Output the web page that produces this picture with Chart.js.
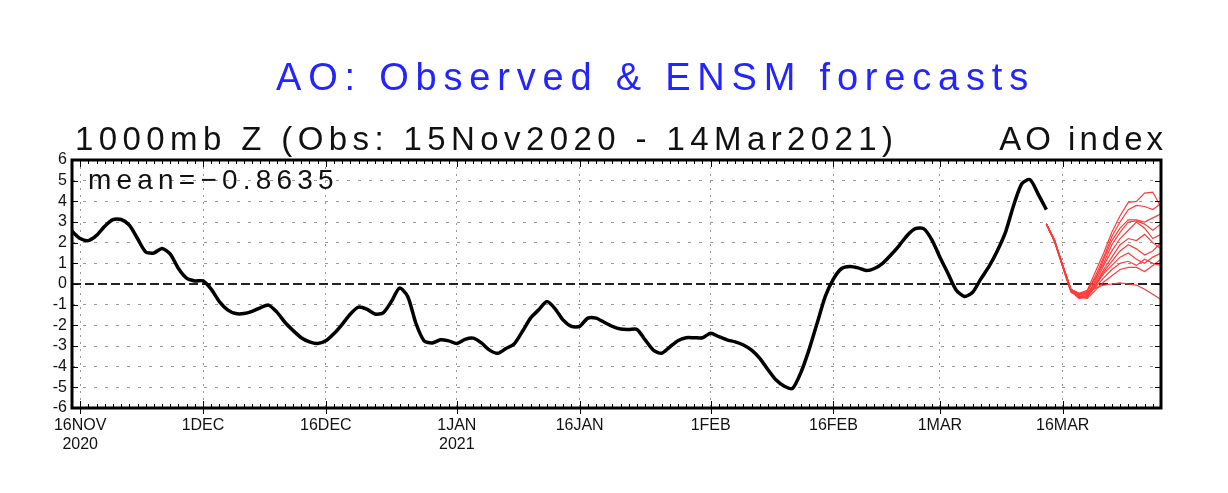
<!DOCTYPE html>
<html>
<head>
<meta charset="utf-8">
<script src="https://cdn.jsdelivr.net/npm/chart.js@4.4.1/dist/chart.umd.min.js"></script>
<style>
  body { margin: 0; background: #fff; }
  #wrap { position: relative; width: 1228px; height: 493px; font-family: "Liberation Sans", Arial, sans-serif; }
  #wrap canvas { position: absolute; left: 0; top: 0; }
  .txt { position: absolute; line-height: 1; white-space: nowrap; }
  #title { left: 276px; top: 58px; font-size: 38px; letter-spacing: 6.8px; color: #2424ff; }
  #sub { left: 75px; top: 122px; font-size: 33px; letter-spacing: 5.4px; color: #111; }
  #idx { right: 61px; top: 122px; font-size: 33px; letter-spacing: 4px; color: #111; }
  #mean { left: 88px; top: 166px; font-size: 28px; letter-spacing: 5.2px; color: #111; }
</style>
</head>
<body>
<div id="wrap">
  <canvas id="c" width="1228" height="493"></canvas>
  <div class="txt" id="title">AO: Observed &amp; ENSM forecasts</div>
  <div class="txt" id="sub">1000mb Z (Obs: 15Nov2020 - 14Mar2021)</div>
  <div class="txt" id="idx">AO index</div>
  <div class="txt" id="mean">mean=−0.8635</div>
</div>
<script>
// day 0 = 15 Nov 2020, axis runs to 28 Mar 2021
const dayMin = 0
const dayMax = 133

// x tick positions (days) and their labels
const tickDays = [1, 16, 31, 47, 62, 78, 93, 106, 121]
const tickLabels = [['16NOV', '2020'], '1DEC', '16DEC', ['1JAN', '2021'], '16JAN', '1FEB', '16FEB', '1MAR', '16MAR']

// y ticks
const yTicks = [-6, -5, -4, -3, -2, -1, 0, 1, 2, 3, 4, 5, 6]

// observed AO index, one value per day from 15 Nov 2020 to 14 Mar 2021
const observed = [
  2.55, 2.2, 2.1, 2.35, 2.8, 3.12, 3.12, 2.85, 2.2, 1.55,
  1.5, 1.72, 1.45, 0.75, 0.28, 0.15, 0.15, -0.25, -0.85, -1.25,
  -1.43, -1.43, -1.32, -1.15, -1.02, -1.35, -1.85, -2.25, -2.6, -2.8,
  -2.88, -2.75, -2.4, -1.95, -1.45, -1.12, -1.22, -1.45, -1.4, -0.85,
  -0.2, -0.6, -1.9, -2.75, -2.85, -2.7, -2.75, -2.88, -2.68, -2.62,
  -2.85, -3.2, -3.35, -3.12, -2.9, -2.3, -1.65, -1.25, -0.85, -1.2,
  -1.75, -2.05, -2.05, -1.65, -1.65, -1.85, -2.05, -2.18, -2.2, -2.2,
  -2.7, -3.2, -3.35, -3.05, -2.75, -2.6, -2.6, -2.6, -2.38, -2.55,
  -2.7, -2.8, -2.95, -3.2, -3.6, -4.15, -4.65, -4.95, -5.05, -4.3,
  -3.2, -1.9, -0.6, 0.25, 0.75, 0.85, 0.78, 0.65, 0.75, 1.0,
  1.4, 1.85, 2.35, 2.68, 2.68, 2.15, 1.3, 0.5, -0.3, -0.6,
  -0.4, 0.25, 0.85, 1.6, 2.5, 3.8, 4.85, 5.05, 4.35, 3.6
]

// ensemble forecast members, days 119..133
const fcstStartDay = 119
const member1 = [2.9, 2.1, 0.9, -0.25, -0.45, -0.3, 0.6, 1.5, 2.5, 3.3, 3.95, 4.0, 4.4, 4.45, 3.7]
const member2 = [2.9, 2.1, 0.9, -0.3, -0.55, -0.4, 0.4, 1.3, 2.3, 3.0, 3.6, 3.8, 3.75, 3.6, 3.9]
const member3 = [2.9, 2.05, 0.85, -0.35, -0.65, -0.55, 0.2, 1.2, 2.1, 2.7, 3.1, 3.1, 3.0, 3.2, 3.4]
const member4 = [2.9, 2.1, 0.9, -0.25, -0.5, -0.35, 0.3, 1.0, 1.9, 2.5, 3.0, 3.05, 2.9, 2.6, 2.9]
const member5 = [2.9, 2.05, 0.85, -0.3, -0.6, -0.5, 0.1, 0.9, 1.6, 2.2, 2.6, 3.0, 2.7, 2.2, 2.4]
const member6 = [2.9, 2.1, 0.85, -0.35, -0.7, -0.6, 0.0, 0.7, 1.3, 1.9, 2.2, 2.1, 2.4, 2.0, 1.7]
const member7 = [2.9, 2.05, 0.8, -0.4, -0.6, -0.65, -0.1, 0.6, 1.1, 1.6, 1.9, 1.7, 1.4, 1.6, 2.0]
const member8 = [2.9, 2.1, 0.9, -0.3, -0.5, -0.45, -0.05, 0.5, 0.9, 1.3, 1.5, 1.2, 1.0, 1.3, 1.5]
const member9 = [2.9, 2.1, 0.9, -0.3, -0.45, -0.5, -0.15, 0.3, 0.7, 1.0, 1.1, 0.9, 1.2, 1.0, 0.9]
const member10 = [2.9, 2.05, 0.85, -0.35, -0.65, -0.7, -0.3, 0.1, 0.4, 0.7, 0.8, 0.8, 0.6, 0.9, 1.2]
const member11 = [2.9, 2.1, 0.9, -0.25, -0.5, -0.4, -0.2, -0.05, 0.0, 0.05, 0.0, -0.05, -0.25, -0.5, -0.75]
const members = [member1, member2, member3, member4, member5, member6, member7, member8, member9, member10, member11]

const ctx = document.getElementById('c').getContext('2d')

// frame, tick marks and dashed zero line (GrADS style)
const framePlugin = {
  id: 'frame',
  beforeDatasetsDraw(chart) {
    const { ctx, chartArea: a, scales: { y } } = chart
    const y0 = y.getPixelForValue(0)
    ctx.save()
    ctx.strokeStyle = '#222'
    ctx.lineWidth = 2
    ctx.setLineDash([9, 4])
    ctx.beginPath()
    ctx.moveTo(a.left, y0)
    ctx.lineTo(a.right, y0)
    ctx.stroke()
    ctx.restore()
  },
  afterDraw(chart) {
    const { ctx, chartArea: a, scales: { x, y } } = chart
    ctx.save()
    ctx.strokeStyle = '#000'
    ctx.lineWidth = 1
    ctx.beginPath()
    for (let d = dayMin; d <= dayMax; d++) {
      const px = Math.round(x.getPixelForValue(d)) + 0.5
      ctx.moveTo(px, a.bottom)
      ctx.lineTo(px, a.bottom - 4)
      ctx.moveTo(px, a.top)
      ctx.lineTo(px, a.top + 4)
    }
    tickDays.forEach(d => {
      const px = Math.round(x.getPixelForValue(d)) + 0.5
      ctx.moveTo(px, a.bottom + 6)
      ctx.lineTo(px, a.bottom - 7)
      ctx.moveTo(px, a.top)
      ctx.lineTo(px, a.top + 7)
    })
    yTicks.forEach(v => {
      const py = Math.round(y.getPixelForValue(v)) + 0.5
      ctx.moveTo(a.left, py)
      ctx.lineTo(a.left + 6, py)
      ctx.moveTo(a.right, py)
      ctx.lineTo(a.right - 6, py)
    })
    ctx.stroke()
    ctx.lineWidth = 3
    ctx.strokeRect(a.left, a.top, a.right - a.left, a.bottom - a.top)
    ctx.restore()
  }
}

const datasets = members.map(m => ({
  data: m.map((v, i) => ({ x: fcstStartDay + i, y: v })),
  borderColor: '#ff3b3b',
  borderWidth: 1.2,
  pointRadius: 0,
  tension: 0
}))

datasets.push({
  data: observed.map((v, i) => ({ x: i, y: v })),
  borderColor: '#000',
  borderWidth: 3.5,
  pointRadius: 0,
  tension: 0.25
})

new Chart(ctx, {
  type: 'line',
  data: { datasets },
  plugins: [framePlugin],
  options: {
    responsive: false,
    animation: false,
    layout: { padding: { left: 0, right: 67, top: 160, bottom: 0 } },
    plugins: {
      legend: { display: false },
      tooltip: { enabled: false }
    },
    scales: {
      x: {
        type: 'linear',
        min: dayMin,
        max: dayMax,
        afterBuildTicks: s => { s.ticks = tickDays.map(v => ({ value: v })) },
        afterFit: s => { s.height = 85 },
        ticks: {
          color: '#111',
          font: { family: '"Liberation Sans", Arial, sans-serif', size: 16 },
          padding: 8,
          maxRotation: 0,
          autoSkip: false,
          callback: v => tickLabels[tickDays.indexOf(v)]
        },
        grid: { color: '#999', lineWidth: 1, drawTicks: false },
        border: { display: false, dash: [2, 5] }
      },
      y: {
        min: -6,
        max: 6,
        afterBuildTicks: s => { s.ticks = yTicks.map(v => ({ value: v })) },
        afterFit: s => { s.width = 72 },
        ticks: {
          autoSkip: false,
          color: '#111',
          font: { family: '"Liberation Sans", Arial, sans-serif', size: 16, lineHeight: 1 },
          padding: 5,
          callback: v => String(v)
        },
        grid: {
          color: c => c.tick && c.tick.value === 0 ? 'rgba(0,0,0,0)' : '#999',
          lineWidth: 1,
          drawTicks: false
        },
        border: { display: false, dash: [3, 8] }
      }
    }
  }
})
</script>
</body>
</html>
